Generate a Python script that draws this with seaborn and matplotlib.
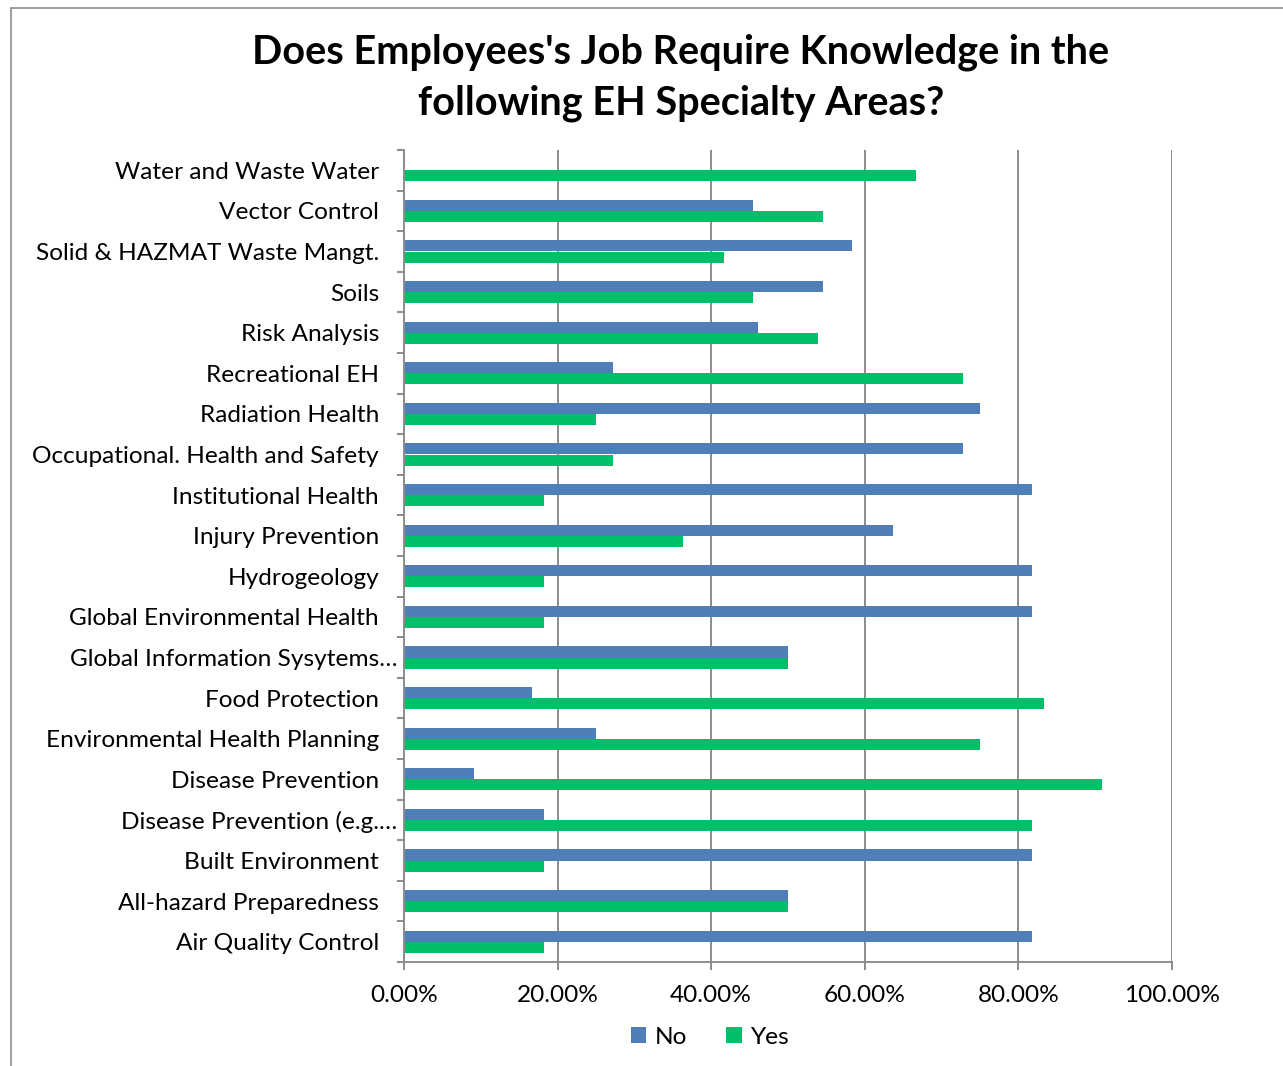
import numpy as np
import pandas as pd
import matplotlib
matplotlib.use("Agg")
import matplotlib.pyplot as plt
import matplotlib.transforms as mtransforms
from matplotlib.patches import Rectangle
from matplotlib.ticker import FixedLocator, PercentFormatter
import seaborn as sns

# Specialty areas, listed top to bottom
categories = [
    "Water and Waste Water",
    "Vector Control",
    "Solid & HAZMAT Waste Mangt.",
    "Soils",
    "Risk Analysis",
    "Recreational EH",
    "Radiation Health",
    "Occupational. Health and Safety",
    "Institutional Health",
    "Injury Prevention",
    "Hydrogeology",
    "Global Environmental Health",
    "Global Information Sysytems\u2026",
    "Food Protection",
    "Environmental Health Planning",
    "Disease Prevention",
    "Disease Prevention (e.g.\u2026",
    "Built Environment",
    "All-hazard Preparedness",
    "Air Quality Control",
]

# Share of respondents (%) per answer
no_pct = [np.nan, 45.45, 58.33, 54.55, 46.15, 27.27, 75.00, 72.73, 81.82, 63.64,
          81.82, 81.82, 50.00, 16.67, 25.00, 9.09, 18.18, 81.82, 50.00, 81.82]
yes_pct = [66.67, 54.55, 41.67, 45.45, 53.85, 72.73, 25.00, 27.27, 18.18, 36.36,
           18.18, 18.18, 50.00, 83.33, 75.00, 90.91, 81.82, 18.18, 50.00, 18.18]

responses = ["No", "Yes"]
colors = ["#4F7EB8", "#00BF6B"]
x_ticks = [0, 20, 40, 60, 80, 100]

title = "Does Employees's Job Require Knowledge in the\nfollowing EH Specialty Areas?"

df = pd.DataFrame({
    "Area": categories * 2,
    "Response": ["No"] * len(categories) + ["Yes"] * len(categories),
    "Percent": no_pct + yes_pct,
}).dropna()

plt.rcParams["font.family"] = ["Lato", "DejaVu Sans"]

W, H = 1283, 1066
fig = plt.figure(figsize=(W / 100, H / 100), dpi=100)
ax = fig.add_axes([404 / W, 1 - 962 / H, (1172 - 404) / W, (962 - 150) / H])

sns.barplot(data=df, y="Area", x="Percent", hue="Response", order=categories,
            hue_order=responses, palette=colors, saturation=1, orient="h",
            width=0.55, errorbar=None, linewidth=0, ax=ax, legend=True)

grid_c = "#8C8C8C"
fs = 17.6
ax.set_xlim(0, 100)
ax.set_ylim(len(categories) - 0.5, -0.5)
ax.xaxis.set_major_locator(FixedLocator(x_ticks))
ax.xaxis.set_major_formatter(PercentFormatter(decimals=2))
ax.grid(axis="x", color=grid_c, linewidth=1.4)
ax.set_axisbelow(True)
ax.set_xlabel("")
ax.set_ylabel("")

for side in ["top", "right"]:
    ax.spines[side].set_visible(False)
for side in ["left", "bottom"]:
    ax.spines[side].set_color(grid_c)
    ax.spines[side].set_linewidth(1.4)

ax.tick_params(axis="x", which="major", length=6, width=1.4, color=grid_c,
               labelsize=fs, pad=10.5, labelcolor="black")
ax.tick_params(axis="y", which="major", length=0, labelsize=fs, pad=18,
               labelcolor="black")
ax.yaxis.set_minor_locator(FixedLocator(np.arange(-0.5, len(categories), 1.0)))
ax.tick_params(axis="y", which="minor", length=5, width=1.4, color=grid_c)

# truncated labels sit slightly further right
for lab in ax.get_yticklabels():
    if lab.get_text().endswith("\u2026"):
        lab.set_transform(lab.get_transform() +
                          mtransforms.ScaledTranslation(18 / 100, 0, fig.dpi_scale_trans))

handles, labels = ax.get_legend_handles_labels()
ax.legend(handles, labels, loc="center", bbox_to_anchor=(710 / W, 1 - 1037 / H),
          bbox_transform=fig.transFigure, ncol=2, frameon=False, fontsize=fs,
          handlelength=0.62, handleheight=0.62, handletextpad=0.35,
          columnspacing=1.6)

fig.text(681 / W, 1 - 78 / H, title, ha="center", va="center", fontsize=28.5,
         fontweight="bold", linespacing=1.45)

fig.add_artist(Rectangle((11 / W, -0.1), 1.2, 1.1 - 8 / H, transform=fig.transFigure,
                         fill=False, edgecolor=grid_c, linewidth=1.2, clip_on=False))

fig.savefig("out.png", dpi=100)
